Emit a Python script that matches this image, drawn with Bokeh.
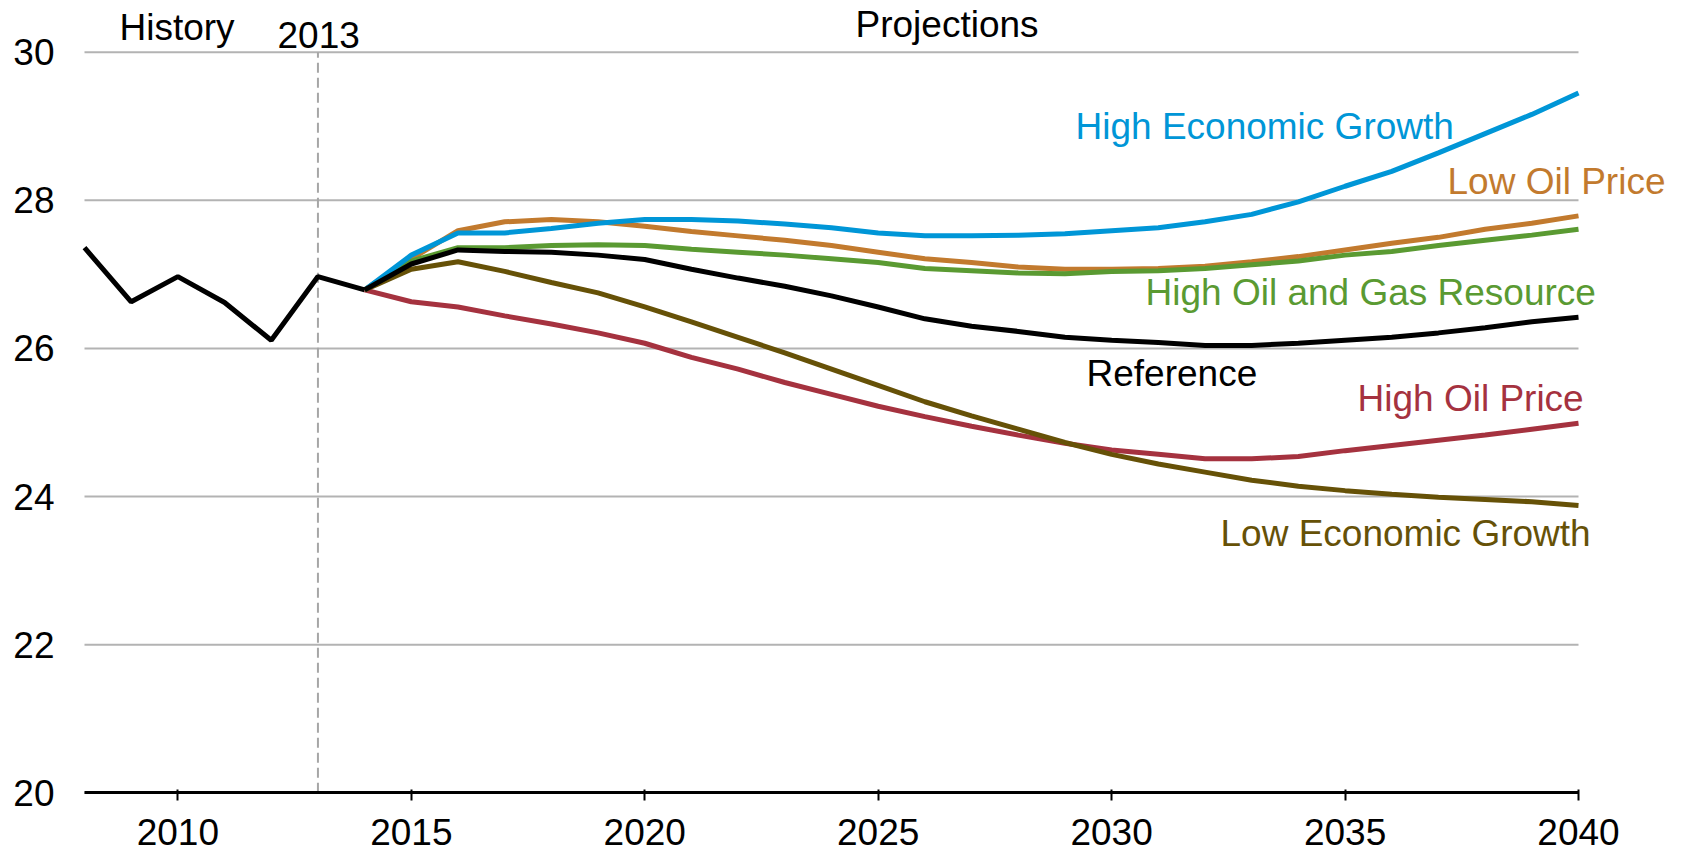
from bokeh.plotting import figure
from bokeh.models import FixedTicker, Label
from bokeh.embed import file_html
from bokeh.resources import INLINE

# ---------------- data ----------------
hist_years = [2008, 2009, 2010, 2011, 2012, 2013, 2014]
hist_values = [27.36, 26.63, 26.97, 26.62, 26.11, 26.97, 26.79]

proj_years = list(range(2014, 2041))
reference = [26.79, 27.14, 27.33, 27.31, 27.30, 27.26, 27.20, 27.07, 26.95, 26.84,
             26.71, 26.56, 26.40, 26.30, 26.23, 26.15, 26.11, 26.08, 26.04, 26.04,
             26.07, 26.11, 26.15, 26.21, 26.28, 26.36, 26.42]
high_econ = [26.79, 27.26, 27.56, 27.56, 27.62, 27.69, 27.74, 27.74, 27.72, 27.68,
             27.63, 27.56, 27.52, 27.52, 27.53, 27.55, 27.59, 27.63, 27.71, 27.81,
             27.98, 28.19, 28.39, 28.64, 28.90, 29.16, 29.45]
low_oil = [26.79, 27.21, 27.59, 27.71, 27.74, 27.71, 27.65, 27.58, 27.52, 27.46,
           27.39, 27.30, 27.21, 27.16, 27.10, 27.07, 27.07, 27.08, 27.11, 27.17,
           27.24, 27.33, 27.42, 27.50, 27.61, 27.69, 27.79]
high_resource = [26.79, 27.18, 27.36, 27.36, 27.39, 27.40, 27.39, 27.34, 27.30, 27.26,
                 27.21, 27.16, 27.08, 27.05, 27.02, 27.01, 27.04, 27.05, 27.08, 27.13,
                 27.18, 27.26, 27.31, 27.39, 27.46, 27.53, 27.61]
high_oil = [26.79, 26.63, 26.56, 26.44, 26.33, 26.21, 26.07, 25.88, 25.72, 25.54,
            25.38, 25.22, 25.08, 24.95, 24.83, 24.72, 24.63, 24.57, 24.51, 24.51,
            24.54, 24.62, 24.69, 24.76, 24.83, 24.91, 24.99]
low_econ = [26.79, 27.07, 27.17, 27.04, 26.89, 26.75, 26.56, 26.36, 26.15, 25.94,
            25.72, 25.50, 25.28, 25.09, 24.91, 24.73, 24.57, 24.44, 24.33, 24.22,
            24.14, 24.08, 24.03, 23.99, 23.96, 23.93, 23.88]

x_ticks = [2010, 2015, 2020, 2025, 2030, 2035, 2040]
y_ticks = [20, 22, 24, 26, 28, 30]
x_first, x_last = 2008, 2040
history_end = 2013

series_names = ["High Economic Growth", "Low Oil Price", "High Oil and Gas Resource",
                "Reference", "High Oil Price", "Low Economic Growth"]

# ---------------- styling / layout ----------------
FONT = "Liberation Sans"
FS = "37px"
C_BLUE = "#0096d7"
C_ORANGE = "#c27a2e"
C_GREEN = "#5a9a32"
C_RED = "#a5323f"
C_BROWN = "#665107"
C_BLACK = "#000000"
C_GRID = "#b3b3b3"

W, H = 1687, 853
# where the data box sits on the canvas (pixels)
PX_LEFT, PX_RIGHT = 84.0, 1578.0     # x_first, x_last
PX_TOP, PX_BOTTOM = 51.7, 792.3      # y=30, y=20
SX = (PX_RIGHT - PX_LEFT) / (x_last - x_first)
SY = (PX_BOTTOM - PX_TOP) / (y_ticks[-1] - y_ticks[0])
x_rng = (x_first - PX_LEFT / SX, x_last + (W - PX_RIGHT) / SX)
y_rng = (y_ticks[0] - (H - PX_BOTTOM) / SY, y_ticks[-1] + PX_TOP / SY)

p = figure(width=W, height=H, output_backend="svg", toolbar_location=None,
           x_range=x_rng, y_range=y_rng,
           min_border_left=0, min_border_right=0,
           min_border_top=0, min_border_bottom=0)
p.outline_line_color = None
p.background_fill_color = "white"
p.border_fill_color = "white"

# axes, fixed at the data box edges
p.xaxis.fixed_location = y_ticks[0]
p.xaxis.bounds = (x_first, x_last)
p.xaxis.ticker = FixedTicker(ticks=x_ticks)
p.xaxis.axis_line_color = "black"
p.xaxis.axis_line_width = 3
p.xaxis.major_tick_line_color = "black"
p.xaxis.major_tick_line_width = 2
p.xaxis.major_tick_out = 8
p.xaxis.major_tick_in = 3
p.xaxis.minor_tick_line_color = None
p.xaxis.major_label_standoff = 18
p.xaxis.major_label_text_font = FONT
p.xaxis.major_label_text_font_size = FS
p.xaxis.major_label_text_color = "black"

p.yaxis.fixed_location = x_first
p.yaxis.ticker = FixedTicker(ticks=y_ticks)
p.yaxis.axis_line_color = None
p.yaxis.major_tick_line_color = None
p.yaxis.major_tick_out = 0
p.yaxis.major_tick_in = 0
p.yaxis.minor_tick_line_color = None
p.yaxis.major_label_standoff = 30
p.yaxis.major_label_text_font = FONT
p.yaxis.major_label_text_font_size = FS
p.yaxis.major_label_text_color = "black"

p.xgrid.grid_line_color = None
p.ygrid.grid_line_color = None

# horizontal gridlines limited to the data span
p.segment(x0=[x_first] * len(y_ticks), x1=[x_last] * len(y_ticks),
          y0=y_ticks, y1=y_ticks, line_color=C_GRID, line_width=2)

# dashed history/projection divider
p.line([history_end, history_end], [y_ticks[0], y_ticks[-1]],
       line_color="#a6a6a6", line_width=2, line_dash="10 5")

# series
LW = 5
p.line(proj_years, high_oil, line_color=C_RED, line_width=LW)
p.line(proj_years, low_oil, line_color=C_ORANGE, line_width=LW)
p.line(proj_years, high_resource, line_color=C_GREEN, line_width=LW)
p.line(proj_years, high_econ, line_color=C_BLUE, line_width=LW)
p.line(proj_years, low_econ, line_color=C_BROWN, line_width=LW)
p.line(proj_years, reference, line_color=C_BLACK, line_width=LW)
p.line(hist_years, hist_values, line_color=C_BLACK, line_width=LW)


def dx(px):
    return x_first + (px - PX_LEFT) / SX


def dy(py):
    return y_ticks[-1] - (py - PX_TOP) / SY


# text labels: (text, left px, baseline px, colour)
labels = [
    ("History", 119, 27, "black"),
    ("2013", 277, 34, "black"),
    ("Projections", 855, 23.5, "black"),
    (series_names[0], 1075, 125.5, C_BLUE),
    (series_names[1], 1447, 180.5, C_ORANGE),
    (series_names[2], 1145, 292, C_GREEN),
    (series_names[3], 1086, 373, C_BLACK),
    (series_names[4], 1357, 397.5, C_RED),
    (series_names[5], 1220, 533, C_BROWN),
]
for txt, px, py, col in labels:
    p.add_layout(Label(x=dx(px), y=dy(py), text=txt, text_color=col,
                       text_font=FONT, text_font_size=FS,
                       text_align="left", text_baseline="alphabetic"))

open("out.html", "w").write(file_html(p, INLINE))
